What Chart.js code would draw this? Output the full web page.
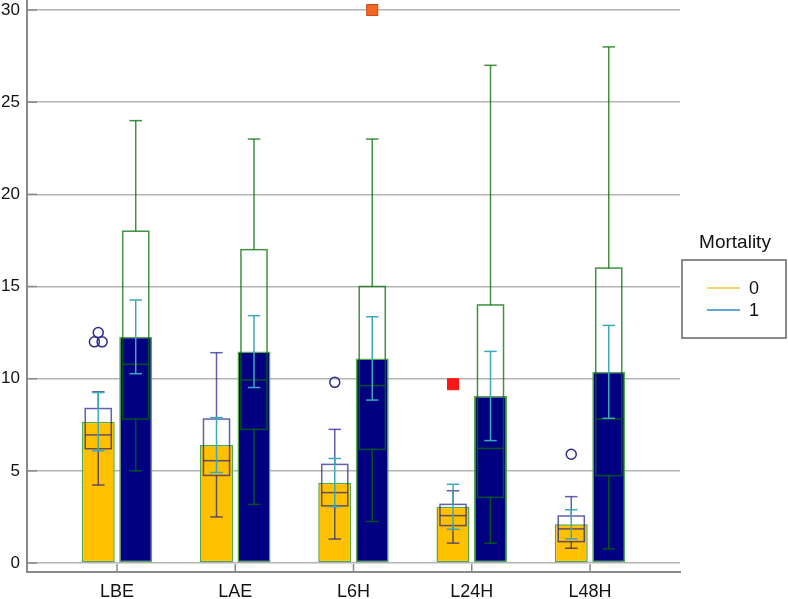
<!DOCTYPE html>
<html>
<head>
<meta charset="utf-8">
<script src="https://cdn.jsdelivr.net/npm/chart.js@4.4.1/dist/chart.umd.min.js"></script>
<style>
  html, body { margin: 0; padding: 0; background: #fff; }
</style>
</head>
<body>
<canvas id="chart" width="788" height="599"></canvas>
<script>
const categories = ['LBE', 'LAE', 'L6H', 'L24H', 'L48H'];
const yTicks = [0, 5, 10, 15, 20, 25, 30];
const legendTitle = 'Mortality';
const legendLabels = ['0', '1'];

// Mortality 0: bar = mean, teal bar = mean +/- err, purple box plot
const mean0 = [7.67, 6.40, 4.36, 3.05, 2.10];
const err0  = [1.58, 1.49, 1.31, 1.22, 0.79];
const lo0   = [4.23, 2.50, 1.30, 1.08, 0.80];
const q1_0  = [6.20, 4.75, 3.10, 2.03, 1.16];
const med0  = [6.95, 5.55, 3.82, 2.57, 1.85];
const q3_0  = [8.38, 7.81, 5.35, 3.18, 2.55];
const hi0   = [9.29, 11.41, 7.25, 3.92, 3.60];
const out0  = [[12.0, 12.0, 12.5], [], [9.8], [], [5.9]];
const far0  = [[], [], [], [9.7], []];

// Mortality 1: bar = mean, teal bar = mean +/- err, green box plot
const mean1 = [12.27, 11.47, 11.10, 9.06, 10.37];
const err1  = [2.00, 1.95, 2.26, 2.42, 2.52];
const lo1   = [5.00, 3.18, 2.25, 1.07, 0.76];
const q1_1  = [7.81, 7.25, 6.16, 3.56, 4.74];
const med1  = [10.78, 9.93, 9.62, 6.22, 7.81];
const q3_1  = [18.0, 17.0, 15.0, 14.0, 16.0];
const hi1   = [24.0, 23.0, 23.0, 27.0, 28.0];
const out1  = [[], [], [], [], []];
const far1  = [[], [], [30.0], [], []];

const FONT = "'Liberation Sans', Arial, Helvetica, sans-serif";

const groups = [
  { mean: mean0, err: err0, lo: lo0, q1: q1_0, med: med0, q3: q3_0, hi: hi0, out: out0, far: far0,
    boxColor: 'rgba(30,30,140,0.7)', farFill: '#ff1616', farEdge: '#ff1616' },
  { mean: mean1, err: err1, lo: lo1, q1: q1_1, med: med1, q3: q3_1, hi: hi1, out: out1, far: far1,
    boxColor: 'rgba(0,110,0,0.75)', farFill: '#f26522', farEdge: '#c44a1a' }
];

function seg(ctx, x1, y1, x2, y2) {
  ctx.beginPath();
  ctx.moveTo(x1, y1);
  ctx.lineTo(x2, y2);
  ctx.stroke();
}

const boxPlots = {
  id: 'boxPlots',
  afterDatasetsDraw(chart) {
    const ctx = chart.ctx;
    const ys = chart.scales.y;
    const py = v => ys.getPixelForValue(v);

    groups.forEach((g, d) => {
      chart.getDatasetMeta(d).data.forEach((bar, i) => {
        const cx = bar.x;
        const bw = bar.width * 0.79;
        const cw = bar.width * 0.38;
        ctx.save();
        ctx.lineWidth = 1.5;
        ctx.strokeStyle = g.boxColor;
        // whiskers
        seg(ctx, cx, py(g.q3[i]), cx, py(g.hi[i]));
        seg(ctx, cx, py(g.q1[i]), cx, py(g.lo[i]));
        seg(ctx, cx - cw / 2, py(g.hi[i]), cx + cw / 2, py(g.hi[i]));
        seg(ctx, cx - cw / 2, py(g.lo[i]), cx + cw / 2, py(g.lo[i]));
        // box + median
        ctx.strokeRect(cx - bw / 2, py(g.q3[i]), bw, py(g.q1[i]) - py(g.q3[i]));
        seg(ctx, cx - bw / 2, py(g.med[i]), cx + bw / 2, py(g.med[i]));

        // teal error bar around the mean
        const top = g.mean[i] + g.err[i], bot = g.mean[i] - g.err[i];
        ctx.strokeStyle = '#3ea7b8';
        seg(ctx, cx, py(top), cx, py(bot));
        seg(ctx, cx - cw / 2, py(top), cx + cw / 2, py(top));
        seg(ctx, cx - cw / 2, py(bot), cx + cw / 2, py(bot));

        // outliers (circles), duplicates spread side by side
        ctx.strokeStyle = '#2b2b8f';
        const counts = {};
        g.out[i].forEach(v => { counts[v] = (counts[v] || 0) + 1; });
        const seen = {};
        g.out[i].forEach(v => {
          const k = seen[v] = (seen[v] || 0) + 1;
          const dx = (k - 1 - (counts[v] - 1) / 2) * 7.7;
          ctx.beginPath();
          ctx.arc(cx + dx, py(v), 5, 0, Math.PI * 2);
          ctx.stroke();
        });
        // extreme values (squares)
        g.far[i].forEach(v => {
          ctx.fillStyle = g.farFill;
          ctx.strokeStyle = g.farEdge;
          ctx.lineWidth = 1;
          ctx.fillRect(cx - 5.5, py(v) - 5.5, 11, 11);
          ctx.strokeRect(cx - 5.5, py(v) - 5.5, 11, 11);
        });
        ctx.restore();
      });
    });
  },
  afterDraw(chart) {
    const ctx = chart.ctx;
    const { left, bottom } = chart.chartArea;
    const ys = chart.scales.y, xs = chart.scales.x;
    ctx.save();
    ctx.strokeStyle = '#8a8a8a';
    ctx.lineWidth = 1.5;
    // inner tick marks
    yTicks.forEach(t => seg(ctx, left, ys.getPixelForValue(t), left + 10, ys.getPixelForValue(t)));
    categories.forEach((c, i) => seg(ctx, xs.getPixelForValue(i + 1), bottom, xs.getPixelForValue(i + 1), bottom - 8));

    // legend
    ctx.fillStyle = '#111';
    ctx.font = '19px ' + FONT;
    ctx.textAlign = 'center';
    ctx.textBaseline = 'alphabetic';
    ctx.fillText(legendTitle, 735, 248);
    ctx.strokeStyle = '#666';
    ctx.lineWidth = 1.5;
    ctx.strokeRect(682, 260, 104, 78);
    const lineColors = ['#f3c63a', '#2f8bcb'];
    ctx.font = '18px ' + FONT;
    ctx.textAlign = 'left';
    ctx.textBaseline = 'middle';
    legendLabels.forEach((lab, k) => {
      const yy = 288 + k * 22;
      ctx.strokeStyle = lineColors[k];
      seg(ctx, 707, yy, 740, yy);
      ctx.fillText(lab, 749, yy + 1);
    });
    ctx.restore();
  }
};

new Chart(document.getElementById('chart'), {
  type: 'bar',
  data: {
    datasets: [
      {
        label: legendLabels[0],
        data: mean0.map((v, i) => ({ x: i + 1, y: v })),
        backgroundColor: '#ffc000',
        borderColor: '#52a84a',
        borderWidth: 1.5,
        borderSkipped: false
      },
      {
        label: legendLabels[1],
        data: mean1.map((v, i) => ({ x: i + 1, y: v })),
        backgroundColor: '#000080',
        borderColor: '#52a84a',
        borderWidth: 1.5,
        borderSkipped: false
      }
    ]
  },
  options: {
    responsive: false,
    animation: false,
    devicePixelRatio: 1,
    categoryPercentage: 0.634,
    barPercentage: 0.88,
    layout: { padding: { top: 1, right: 108, left: 0, bottom: 0 } },
    plugins: { legend: { display: false }, tooltip: { enabled: false } },
    scales: {
      x: {
        type: 'linear',
        offset: false,
        min: 0.239,
        max: 5.761,
        afterBuildTicks: s => { s.ticks = categories.map((c, i) => ({ value: i + 1 })); },
        afterFit: s => { s.height = 27; s.paddingLeft = 0; s.paddingRight = 0; },
        ticks: {
          callback: v => categories[Math.round(v) - 1],
          color: '#111',
          font: { family: FONT, size: 18 },
          padding: 1,
          maxRotation: 0,
          autoSkip: false
        },
        grid: { display: false, offset: false },
        border: { color: '#8a8a8a', width: 2 }
      },
      y: {
        min: -0.488,
        max: 30.49,
        afterBuildTicks: s => { s.ticks = yTicks.map(v => ({ value: v })); },
        afterFit: s => { s.width = 27; s.paddingTop = 0; s.paddingBottom = 0; },
        ticks: {
          color: '#111',
          font: { family: FONT, size: 17 },
          padding: 7
        },
        grid: { color: '#b4b4b4', lineWidth: 1.5, drawTicks: false },
        border: { color: '#8a8a8a', width: 2 }
      }
    }
  },
  plugins: [boxPlots]
});
</script>
</body>
</html>
